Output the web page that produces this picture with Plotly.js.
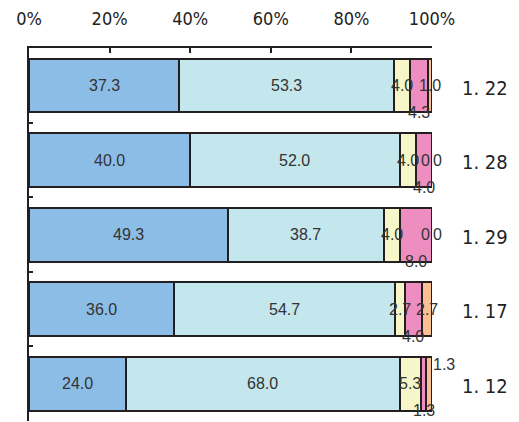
<!DOCTYPE html>
<html><head><meta charset="utf-8">
<script src="https://cdn.plot.ly/plotly-3.0.1.min.js"></script>
<style>html,body{margin:0;padding:0;background:#fff;}#chart{width:519px;height:422px;}</style>
</head><body><div id="chart"></div>
<script>
// Data
var categories = ["A", "B", "C", "D", "E"];
var rightLabels = ["1. 22", "1. 28", "1. 29", "1. 17", "1. 12"];
var xTickVals = [0, 20, 40, 60, 80, 100];
var xTickText = ["0%", "20%", "40%", "60%", "80%", "100%"];
var blueVals   = [37.3, 40.0, 49.3, 36.0, 24.0];
var cyanVals   = [53.3, 52.0, 38.7, 54.7, 68.0];
var yellowVals = [4.0, 4.0, 4.0, 2.7, 5.3];
var pinkVals   = [4.3, 4.0, 8.0, 4.0, 1.3];
var orangeVals = [1.0, 0, 0, 2.7, 1.3];
var otherVals  = [null, 0, 0, null, null];

var seriesVals = [blueVals, cyanVals, yellowVals, pinkVals, orangeVals, otherVals];
var colors = ["#8cbde6", "#c4e6ed", "#f6f6c8", "#ee8ec0", "#fac091", "#cccccc"];

var traces = seriesVals.map(function (vals, i) {
  return {
    type: "bar", orientation: "h",
    y: categories, x: vals.map(function (v) { return v === null ? 0 : v; }),
    marker: { color: colors[i], line: { color: "#231f20", width: 2 } },
    hoverinfo: "none", textposition: "none"
  };
});

function fmt(v) { return v === 0 ? "0" : v.toFixed(1); }

var narrow = "DejaVu Sans Condensed, Liberation Sans Narrow, Arial Narrow, sans-serif";
var annotations = [];
var labelFont = { family: "Liberation Sans, Arial, sans-serif", size: 16, color: "#333" };
categories.forEach(function (c, j) {
  var cum = 0;
  seriesVals.forEach(function (vals, i) {
    var v = vals[j];
    if (v === null) return;
    var center = cum + v / 2;
    cum += v;
    var a = { x: center, y: c, xref: "x", yref: "y", text: fmt(v), showarrow: false, font: labelFont, xanchor: "center", yanchor: "middle" };
    if (i === 3) { a.yshift = -27; }              // pink labels below bar
    if (i === 4 && v === 0) { a.xshift = -7; }
    if (i === 5) { a.xshift = 5; }
    if (i === 4 && j === 4) { a.xshift = 15; a.yshift = 19; }
    annotations.push(a);
  });
  annotations.push({ x: 1, xref: "paper", xshift: 53, y: c, yref: "y", yshift: -2, text: rightLabels[j], showarrow: false,
    font: { family: narrow, size: 20, color: "#222" }, xanchor: "center", yanchor: "middle" });
});

var layout = {
  width: 519, height: 422,
  margin: { l: 29, r: 87, t: 48, b: 1, pad: 0 },
  paper_bgcolor: "#fff", plot_bgcolor: "#fff",
  barmode: "stack", bargap: 0.276, showlegend: false,
  xaxis: {
    side: "top", range: [0, 100], tickmode: "array", tickvals: xTickVals, ticktext: xTickText,
    ticks: "inside", ticklen: 5, tickwidth: 2, tickcolor: "#231f20",
    showline: true, linecolor: "#231f20", linewidth: 2, showgrid: false, zeroline: false,
    ticklabelstandoff: 14,
    tickfont: { family: narrow, size: 18, color: "#222" }
  },
  yaxis: {
    type: "category", autorange: "reversed", showticklabels: false,
    ticks: "inside", tickson: "boundaries", ticklen: 4, tickwidth: 2, tickcolor: "#231f20",
    showline: true, linecolor: "#231f20", linewidth: 2, showgrid: false, zeroline: false
  },
  annotations: annotations
};

Plotly.newPlot("chart", traces, layout, { displayModeBar: false, staticPlot: true });
</script></body></html>
